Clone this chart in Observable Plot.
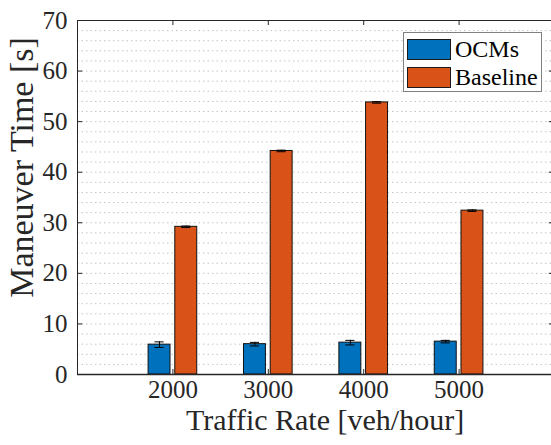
<!DOCTYPE html>
<html><head><meta charset="utf-8">
<script src="https://cdn.jsdelivr.net/npm/d3@7"></script>
<script src="https://cdn.jsdelivr.net/npm/@observablehq/plot@0.6"></script>
<style>
html,body{margin:0;padding:0;background:#fff;overflow:hidden;}
#wrap{position:relative;width:551px;height:445px;overflow:hidden;}
#wrap svg{overflow:hidden;font-family:"Liberation Serif",serif;}
.legend{position:absolute;left:403px;top:32px;width:139px;height:60px;border:1px solid #808080;background:#fff;box-sizing:border-box;font-family:"Liberation Serif",serif;font-size:24px;color:#000;}
.item{position:absolute;left:3px;height:22px;display:flex;align-items:center;}
.sw{width:44px;height:21px;border:1px solid #1a1a1a;box-sizing:border-box;margin-right:4px;}
</style></head>
<body><div id="wrap"></div>
<script>
const rates = [2000, 3000, 4000, 5000];
const series = ["OCMs", "Baseline"];
const ocms = [5.9, 6.0, 6.3, 6.5];
const ocmsErr = [0.55, 0.35, 0.45, 0.25];
const baseline = [29.2, 44.2, 53.8, 32.4];
const baselineErr = [0.15, 0.15, 0.15, 0.15];
const colors = ["#0072BD", "#D95319"];
const xTicks = [2000, 3000, 4000, 5000];
const yTicks = [0, 10, 20, 30, 40, 50, 60, 70];
const gridY = d3.range(2, 70, 2);

const offsets = {OCMs: -140, Baseline: 140};
const half = 115;
const rows = [];
rates.forEach((r, i) => {
  rows.push({rate: r, series: "OCMs", v: ocms[i], e: ocmsErr[i]});
  rows.push({rate: r, series: "Baseline", v: baseline[i], e: baselineErr[i]});
});
const cx = d => d.rate + offsets[d.series];

const font = '"Liberation Serif", serif';
const chart = Plot.plot({
  width: 551, height: 445,
  marginLeft: 77, marginRight: -3, marginTop: 20, marginBottom: 71,
  style: {fontFamily: font, background: "#fff", color: "#262626"},
  x: {domain: [1000, 6000]},
  y: {domain: [0, 70]},
  color: {domain: series, range: colors},
  marks: [
    Plot.ruleY(gridY, {x1: 1000, x2: 6000, stroke: "#c4c4c4", strokeDasharray: "1.5,3", strokeWidth: 1}),
    Plot.rectY(rows, {x1: d => cx(d) - half, x2: d => cx(d) + half, y1: 0, y2: "v", fill: "series", stroke: "#111", strokeWidth: 1}),
    Plot.ruleX(rows, {x: cx, y1: d => d.v - d.e, y2: d => d.v + d.e, stroke: "#000", strokeWidth: 1}),
    Plot.ruleY(rows, {y: d => d.v - d.e, x1: d => cx(d) - 48, x2: d => cx(d) + 48, stroke: "#000", strokeWidth: 1}),
    Plot.ruleY(rows, {y: d => d.v + d.e, x1: d => cx(d) - 48, x2: d => cx(d) + 48, stroke: "#000", strokeWidth: 1}),
    // inward ticks
    Plot.ruleX(xTicks, {y1: 0, y2: 1, stroke: "#262626"}),
    Plot.ruleX(xTicks, {y1: 70, y2: 69, stroke: "#262626"}),
    Plot.ruleY(yTicks, {x1: 1000, x2: 1055, stroke: "#262626"}),
    Plot.ruleY(yTicks, {x1: 6000, x2: 5945, stroke: "#262626"}),
    Plot.frame({stroke: "#262626", strokeWidth: 1}),
    Plot.ruleY([0], {x1: 1000, x2: 6000, stroke: "#262626", strokeWidth: 1.6}),
    Plot.axisX({ticks: xTicks, tickSize: 0, tickPadding: 6, fontSize: 25, fontFamily: font, tickFormat: d => String(d), label: null, fill: "#262626"}),
    Plot.axisY({ticks: yTicks, tickSize: 0, tickPadding: 10, fontSize: 25, fontFamily: font, label: null, fill: "#262626"}),
    Plot.text(["Traffic Rate [veh/hour]"], {frameAnchor: "bottom", textAnchor: "middle", lineAnchor: "middle", dx: 9, dy: 46, fontSize: 30, fontFamily: font, fill: "#262626"}),
    Plot.text(["Maneuver Time [s]"], {frameAnchor: "left", textAnchor: "middle", lineAnchor: "middle", rotate: -90, dx: -55, dy: -30, fontSize: 34, fontFamily: font, fill: "#262626"})
  ]
});
const wrap = document.getElementById("wrap");
wrap.appendChild(chart);
const lg = document.createElement("div");
lg.className = "legend";
series.forEach((s, i) => {
  const it = document.createElement("div");
  it.className = "item";
  it.style.top = (i === 0 ? 5 : 33) + "px";
  const sw = document.createElement("div");
  sw.className = "sw";
  sw.style.background = colors[i];
  it.appendChild(sw);
  const t = document.createElement("span");
  t.textContent = s;
  it.appendChild(t);
  lg.appendChild(it);
});
wrap.appendChild(lg);
</script></body></html>
